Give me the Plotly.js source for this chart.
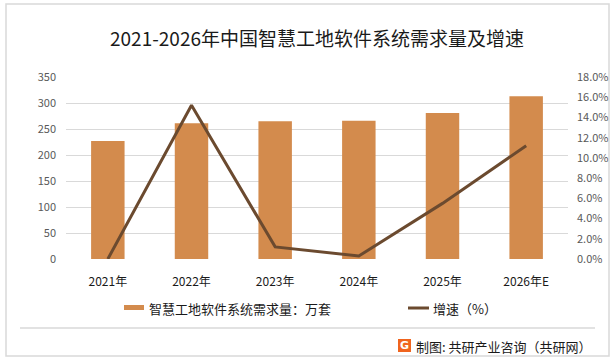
<!DOCTYPE html>
<html>
<head>
<meta charset="utf-8">
<script src="https://cdn.plot.ly/plotly-3.0.1.min.js"></script>
<style>
html,body{margin:0;padding:0;background:#fff;}
#chart{width:616px;height:361px;}
</style>
</head>
<body>
<div id="chart"></div>
<script>
var categories = ["2021年", "2022年", "2023年", "2024年", "2025年", "2026年E"];
var demand = [227, 261, 265, 266, 281, 313];
var growth = [0.000, 0.152, 0.012, 0.003, 0.055, 0.112];
var leftTicks = [0, 50, 100, 150, 200, 250, 300, 350];
var rightTicks = [0, 0.02, 0.04, 0.06, 0.08, 0.10, 0.12, 0.14, 0.16, 0.18];

var FONT = '"Noto Sans CJK SC", "Microsoft YaHei", sans-serif';
var BAR = '#D38B4D';
var LINE = '#6B4A2F';

function px(x) { return (x - 66) / 502; }
function py(y) { return (259 - y) / 182; }

var traces = [
  {
    type: 'bar', name: '智慧工地软件系统需求量：万套',
    x: categories, y: demand,
    marker: {color: BAR, line: {width: 0}},
    hoverinfo: 'x+y'
  },
  {
    type: 'scatter', mode: 'lines', name: '增速（%）',
    x: categories, y: growth, yaxis: 'y2',
    line: {color: LINE, width: 3},
    hoverinfo: 'x+y'
  }
];

var layout = {
  width: 616, height: 361,
  margin: {l: 66, r: 48, t: 77, b: 102},
  paper_bgcolor: '#fff', plot_bgcolor: '#fff',
  showlegend: false,
  bargap: 0.6,
  font: {family: FONT, color: '#595959', size: 11},
  title: {
    text: '2021-2026年中国智慧工地软件系统需求量及增速',
    font: {family: FONT, size: 19, color: '#1a1a1a'},
    x: 0.5, xanchor: 'center', y: 0.89, yanchor: 'middle', xref: 'paper'
  },
  xaxis: {
    type: 'category',
    showgrid: false, zeroline: false, showline: false, ticks: '',
    tickfont: {family: FONT, size: 12, color: '#1a1a1a'},
    ticklabelstandoff: 14
  },
  yaxis: {
    range: [0, 350], tickvals: leftTicks,
    showgrid: true, gridcolor: '#D9D9D9', gridwidth: 1,
    zeroline: false, showline: false, ticks: '',
    tickfont: {family: FONT, size: 11, color: '#595959'},
    ticklabelstandoff: 9
  },
  yaxis2: {
    overlaying: 'y', side: 'right',
    range: [0, 0.18], tickvals: rightTicks, tickformat: '.1%',
    showgrid: false, zeroline: false, showline: false, ticks: '',
    tickfont: {family: FONT, size: 11, color: '#595959'},
    ticklabelstandoff: 8
  },
  shapes: [
    {type: 'rect', xref: 'paper', yref: 'paper', layer: 'below',
     x0: px(6), x1: px(609), y0: py(356), y1: py(4),
     line: {color: '#D9D9D9', width: 1.5}, fillcolor: 'rgba(0,0,0,0)'},
    {type: 'line', xref: 'paper', yref: 'paper',
     x0: px(20), x1: px(595), y0: py(328), y1: py(328),
     line: {color: '#D9D9D9', width: 1.5}},
    {type: 'rect', xref: 'paper', yref: 'paper',
     x0: px(124), x1: px(144), y0: py(310), y1: py(305),
     fillcolor: BAR, line: {width: 0}},
    {type: 'line', xref: 'paper', yref: 'paper',
     x0: px(408), x1: px(429), y0: py(308), y1: py(308),
     line: {color: LINE, width: 3}},
    {type: 'rect', xref: 'paper', yref: 'paper',
     x0: px(398), x1: px(411), y0: py(352), y1: py(339),
     fillcolor: '#F0641E', line: {width: 0}}
  ],
  annotations: [
    {xref: 'paper', yref: 'paper', x: px(147), y: py(308),
     xanchor: 'left', yanchor: 'middle', showarrow: false,
     text: '智慧工地软件系统需求量：万套',
     font: {family: FONT, size: 13, color: '#1a1a1a'}},
    {xref: 'paper', yref: 'paper', x: px(431), y: py(308),
     xanchor: 'left', yanchor: 'middle', showarrow: false,
     text: '增速（%）',
     font: {family: FONT, size: 13, color: '#1a1a1a'}},
    {xref: 'paper', yref: 'paper', x: px(404.5), y: py(345.5),
     xanchor: 'center', yanchor: 'middle', showarrow: false,
     text: '<b>G</b>',
     font: {family: 'DejaVu Sans', size: 11, color: '#ffffff'}},
    {xref: 'paper', yref: 'paper', x: px(414), y: py(346),
     xanchor: 'left', yanchor: 'middle', showarrow: false,
     text: '制图: 共研产业咨询（共研网）',
     font: {family: FONT, size: 13, color: '#1a1a1a'}}
  ]
};

Plotly.newPlot('chart', traces, layout, {displayModeBar: false, staticPlot: true});
</script>
</body>
</html>
